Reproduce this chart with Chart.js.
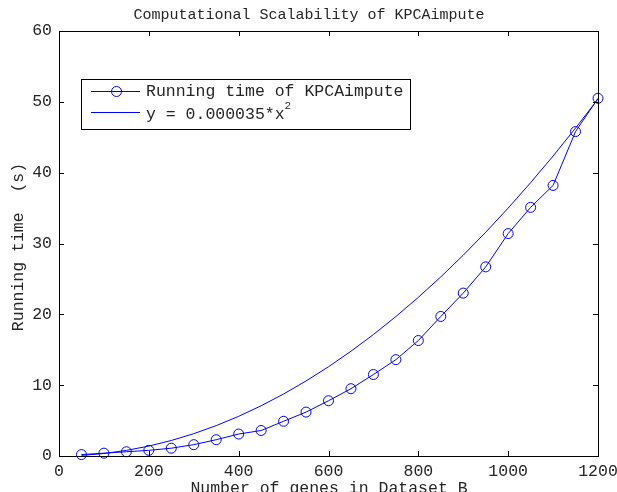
<!DOCTYPE html>
<html>
<head>
<meta charset="utf-8">
<script src="https://cdn.jsdelivr.net/npm/chart.js@4.4.1/dist/chart.umd.min.js"></script>
<style>
body{margin:0;background:#fff}
canvas{display:block}
</style>
</head>
<body>
<canvas id="c" width="617" height="492"></canvas>
<script>
const genes = [50,100,150,200,250,300,350,400,450,500,550,600,650,700,750,800,850,900,950,1000,1050,1100,1150,1200]
const runTime = [0.2,0.4,0.6,0.8,1.1,1.6,2.3,3.1,3.6,4.9,6.2,7.8,9.5,11.5,13.6,16.3,19.7,23.0,26.7,31.4,35.1,38.2,45.8,50.5]
const fitCurve = [0.09,0.35,0.79,1.4,2.19,3.15,4.29,5.6,7.09,8.75,10.59,12.6,14.79,17.15,19.69,22.4,25.29,28.35,31.59,35.0,38.59,42.35,46.29,50.4]
const xTicks = [0,200,400,600,800,1000,1200]
const yTicks = [0,10,20,30,40,50,60]

const mono = "'Liberation Mono', 'Courier New', monospace"
const blue = "#0000FF"
const textCol = "#262626"

const frame = {
id:"frame",
afterDraw(chart){
const ctx = chart.ctx
const a = chart.chartArea
const xs = chart.scales.x
const ys = chart.scales.y
ctx.save()
ctx.strokeStyle = "#000"
ctx.lineWidth = 1
ctx.strokeRect(Math.round(a.left)+0.5, Math.round(a.top)+0.5, Math.round(a.right-a.left), Math.round(a.bottom-a.top))
ctx.beginPath()
xTicks.forEach(v => {
const px = Math.round(xs.getPixelForValue(v))+0.5
ctx.moveTo(px,a.bottom); ctx.lineTo(px,a.bottom-5)
ctx.moveTo(px,a.top); ctx.lineTo(px,a.top+5)
})
yTicks.forEach(v => {
const py = Math.round(ys.getPixelForValue(v))+0.5
ctx.moveTo(a.left,py); ctx.lineTo(a.left+5,py)
ctx.moveTo(a.right,py); ctx.lineTo(a.right-5,py)
})
ctx.stroke()

// title and axis titles
ctx.fillStyle = textCol
ctx.textAlign = "center"
ctx.textBaseline = "middle"
ctx.font = "15px " + mono
ctx.fillText("Computational Scalability of KPCAimpute", 309, 15)
ctx.font = "16.5px " + mono
ctx.fillText("Number of genes in Dataset B", 329, 489)
ctx.save()
ctx.translate(19, 247)
ctx.rotate(-Math.PI/2)
ctx.fillText("Running time  (s)", 0, 0)
ctx.restore()

// legend
ctx.fillStyle = "#fff"
ctx.fillRect(82, 80, 329, 50)
ctx.strokeStyle = "#000"
ctx.strokeRect(81.5, 79.5, 329, 50)
ctx.strokeStyle = blue
ctx.beginPath()
ctx.moveTo(91,91.5); ctx.lineTo(140,91.5)
ctx.moveTo(91,112.5); ctx.lineTo(140,112.5)
ctx.stroke()
ctx.beginPath()
ctx.arc(116.5, 91.5, 5, 0, Math.PI*2)
ctx.stroke()
ctx.fillStyle = textCol
ctx.textAlign = "left"
ctx.font = "16.5px " + mono
ctx.fillText("Running time of KPCAimpute", 146, 92)
ctx.fillText("y = 0.000035*x", 146, 115)
const w = ctx.measureText("y = 0.000035*x").width
ctx.font = "11px " + mono
ctx.fillText("2", 146 + w, 106)
ctx.restore()
}
}

new Chart(document.getElementById("c"),{
type:"line",
data:{
datasets:[{
label:"Running time of KPCAimpute",
data:genes.map((g,i)=>({x:g,y:runTime[i]})),
borderColor:blue,
borderWidth:1,
pointStyle:"circle",
pointRadius:5,
pointBorderColor:blue,
pointBackgroundColor:"rgba(0,0,0,0)",
pointBorderWidth:1,
clip:false
},{
label:"y = 0.000035*x^2",
data:genes.map((g,i)=>({x:g,y:fitCurve[i]})),
borderColor:blue,
borderWidth:1,
pointRadius:0,
clip:false
}]
},
options:{
responsive:false,
animation:false,
layout:{padding:{top:31,right:19,left:0,bottom:0}},
plugins:{legend:{display:false},tooltip:{enabled:false}},
scales:{
x:{
type:"linear",
min:0,max:1200,
afterBuildTicks: s => { s.ticks = xTicks.map(v=>({value:v})) },
afterFit: s => { s.height = 36; s.paddingLeft = 0; s.paddingRight = 0 },
grid:{display:false,drawTicks:false},
border:{display:false},
ticks:{padding:6,color:textCol,font:{family:mono,size:16.5},maxRotation:0,autoSkip:false,callback:v=>String(v)}
},
y:{
min:0,max:60,
afterBuildTicks: s => { s.ticks = yTicks.map(v=>({value:v})) },
afterFit: s => { s.width = 59; s.paddingTop = 0; s.paddingBottom = 0 },
grid:{display:false,drawTicks:false},
border:{display:false},
ticks:{padding:7,color:textCol,font:{family:mono,size:16.5},callback:v=>String(v)}
}
}
},
plugins:[frame]
})
</script>
</body>
</html>
